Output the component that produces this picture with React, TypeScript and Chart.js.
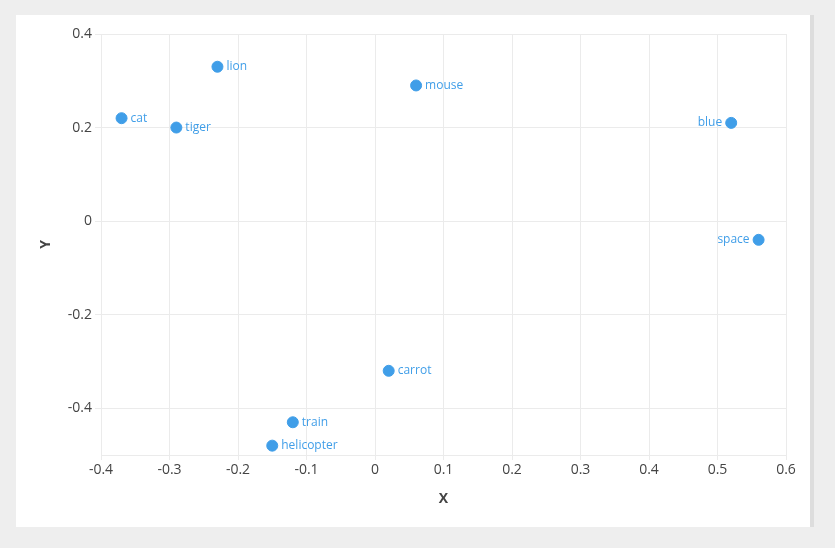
import React, { useEffect, useRef } from "react";
import { Chart, registerables } from "chart.js";

Chart.register(...registerables);

// Word embedding projection: 2D coordinates per word
const words = ["cat", "tiger", "lion", "mouse", "blue", "space", "carrot", "train", "helicopter"];
const xValues = [-0.37, -0.29, -0.23, 0.06, 0.52, 0.56, 0.02, -0.12, -0.15];
const yValues = [0.22, 0.2, 0.33, 0.29, 0.21, -0.04, -0.32, -0.43, -0.48];
// words whose label sits on the left of the point
const leftLabelled = ["blue", "space"];

const xTicks = [-0.4, -0.3, -0.2, -0.1, 0, 0.1, 0.2, 0.3, 0.4, 0.5, 0.6];
const yTicks = [-0.4, -0.2, 0, 0.2, 0.4];

const POINT_COLOR = "#409ee8";
const TICK_COLOR = "#444444";
const GRID_COLOR = "#ebebeb";
const FONT = "'Open Sans', 'DejaVu Sans', sans-serif";

const fmt = (v: number) => (Math.abs(v) < 1e-9 ? "0" : v.toFixed(1));

const wordLabels = {
  id: "wordLabels",
  afterDatasetsDraw(chart: any) {
    const ctx = chart.ctx;
    const meta = chart.getDatasetMeta(0);
    ctx.save();
    ctx.font = `12px ${FONT}`;
    ctx.fillStyle = POINT_COLOR;
    ctx.textBaseline = "middle";
    meta.data.forEach((el: any, i: number) => {
      const w = words[i];
      if (leftLabelled.includes(w)) {
        ctx.textAlign = "right";
        ctx.fillText(w, el.x - 9, el.y);
      } else {
        ctx.textAlign = "left";
        ctx.fillText(w, el.x + 9, el.y);
      }
    });
    ctx.restore();
  },
};

export default function App() {
  const ref = useRef<HTMLCanvasElement | null>(null);

  useEffect(() => {
    if (!ref.current) return;
    const chart = new Chart(ref.current, {
      type: "scatter",
      data: {
        datasets: [
          {
            data: words.map((_, i) => ({ x: xValues[i], y: yValues[i] })),
            backgroundColor: POINT_COLOR,
            borderColor: POINT_COLOR,
            pointRadius: 5.5,
            pointHoverRadius: 5.5,
          },
        ],
      },
      plugins: [wordLabels],
      options: {
        animation: false,
        responsive: false,
        maintainAspectRatio: false,
        layout: { padding: { top: 19, right: 24, left: 0, bottom: 0 } },
        plugins: { legend: { display: false }, tooltip: { enabled: false } },
        scales: {
          x: {
            type: "linear",
            min: -0.4,
            max: 0.6,
            afterBuildTicks: (s: any) => {
              s.ticks = xTicks.map((v) => ({ value: v }));
            },
            afterFit: (s: any) => {
              s.height = 72;
            },
            grid: { color: GRID_COLOR, tickLength: 5 },
            border: { color: GRID_COLOR },
            ticks: {
              color: TICK_COLOR,
              font: { family: FONT, size: 14 },
              maxRotation: 0,
              padding: 2,
              callback: (v: any) => fmt(Number(v)),
            },
            title: {
              display: true,
              text: "X",
              color: TICK_COLOR,
              font: { family: FONT, size: 14, weight: "bold" },
              padding: { top: 4, bottom: 20 },
            },
          },
          y: {
            type: "linear",
            min: -0.5,
            max: 0.4,
            afterBuildTicks: (s: any) => {
              s.ticks = yTicks.map((v) => ({ value: v }));
            },
            afterFit: (s: any) => {
              s.width = 85;
            },
            grid: { color: GRID_COLOR, tickLength: 6 },
            border: { color: GRID_COLOR },
            ticks: {
              color: TICK_COLOR,
              font: { family: FONT, size: 14 },
              padding: 3,
              callback: (v: any) => fmt(Number(v)),
            },
            title: {
              display: true,
              text: "Y",
              color: TICK_COLOR,
              font: { family: FONT, size: 14, weight: "bold" },
              padding: { top: 22, bottom: 4 },
            },
          },
        },
      },
    });
    return () => chart.destroy();
  }, []);

  return (
    <div
      style={{
        position: "fixed",
        inset: 0,
        background: "#eeeeee",
      }}
    >
      <div
        style={{
          position: "absolute",
          left: 16,
          top: 15,
          width: 794,
          height: 512,
          background: "#ffffff",
          borderRight: "4px solid #dddddd",
        }}
      >
        <canvas ref={ref} width={794} height={512} style={{ display: "block" }} />
      </div>
    </div>
  );
}
